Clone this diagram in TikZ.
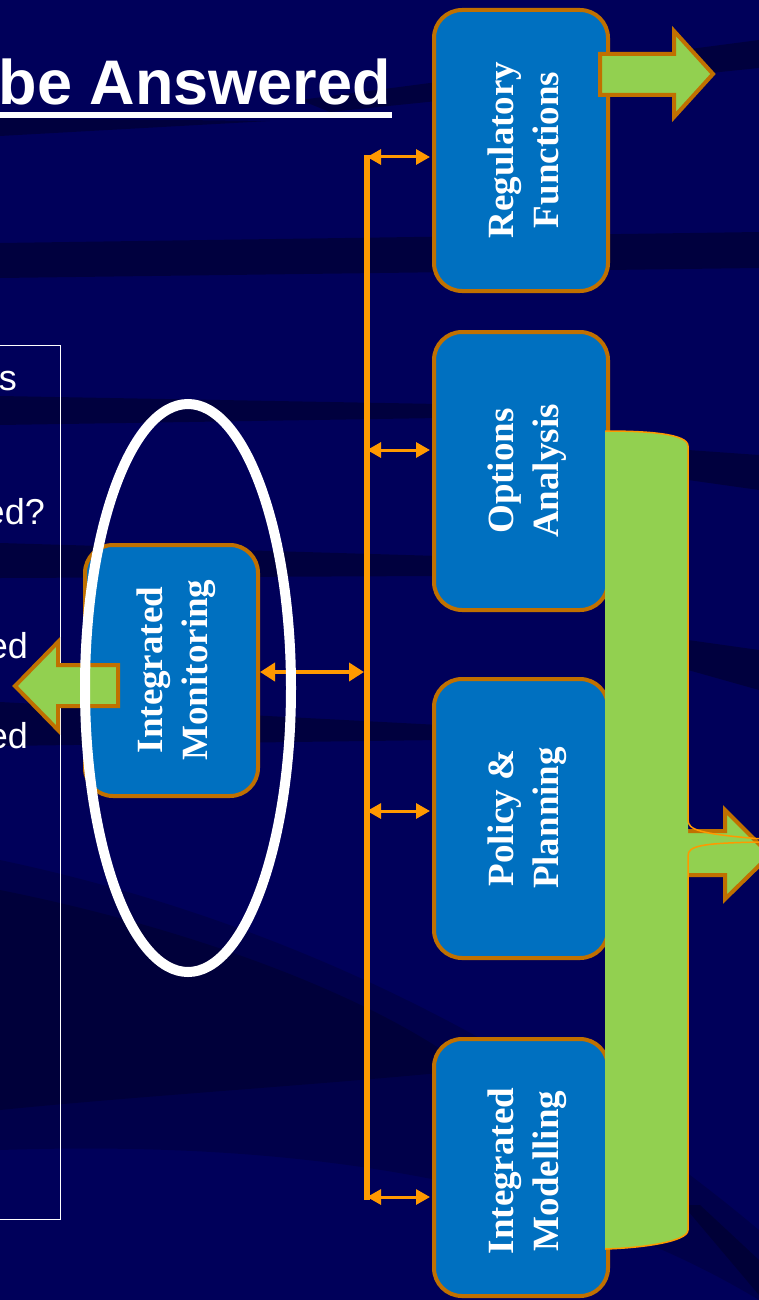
\documentclass[tikz,border=0pt]{standalone}
\usepackage{fontspec}
\setmainfont{Liberation Serif}
\setsansfont{Liberation Sans}
\usetikzlibrary{arrows.meta}

\definecolor{navy}{RGB}{0,0,90}
\definecolor{streak}{RGB}{0,0,40}
\definecolor{boxblue}{RGB}{0,112,192}
\definecolor{boxedge}{RGB}{192,112,0}
\definecolor{busorange}{RGB}{255,153,0}
\definecolor{leaf}{RGB}{146,208,80}

\begin{document}
\begin{tikzpicture}[x=1pt,y=1pt,
  funcbox/.style={draw=boxedge, fill=boxblue, line width=4pt,
    rounded corners=28pt, inner sep=0pt, minimum width=174pt},
  boxlabel/.style={text=white, font=\fontsize{37}{45}\selectfont\bfseries,
    align=center, rotate=90, inner sep=0pt, text depth=0pt},
  link/.style={draw=busorange, line width=3pt,
    {Triangle[length=14pt,width=15pt]}-{Triangle[length=14pt,width=15pt]}},
  biglink/.style={draw=busorange, line width=4.5pt,
    {Triangle[length=15pt,width=18pt]}-{Triangle[length=15pt,width=18pt]}},
  blockarrow/.style={fill=leaf, draw=boxedge, line width=4pt},
  question/.style={text=white, font=\sffamily\fontsize{36}{40}\selectfont,
    inner sep=0pt, anchor=base east},
  streakfill/.style={fill=streak, opacity=0.55}
]
\useasboundingbox (0,0) rectangle (759,-1300);
\clip (0,0) rectangle (759,-1300);

% background and its dark streaks
\fill[navy] (0,0) rectangle (759,-1300);
\fill[streakfill] (0,-118) -- (270,-121) -- (0,-136) -- cycle;
\fill[streakfill] (300,-100) -- (759,-40) -- (759,-68) -- (330,-112) -- cycle;
\fill[streakfill] (0,-243) -- (759,-232) -- (759,-268) -- (0,-278) -- cycle;
\fill[streakfill] (0,-396) -- (440,-404) -- (440,-418) -- (0,-425) -- cycle;
\fill[streakfill] (0,-543) -- (440,-556) -- (440,-576) -- (0,-578) -- cycle;
\fill[streakfill] (688,-450) -- (759,-455) -- (759,-490) -- (688,-480) -- cycle;
\fill[streakfill] (688,-640) -- (759,-650) -- (759,-690) -- (688,-670) -- cycle;
\fill[streakfill] (0,-702) -- (440,-725) -- (440,-740) -- (0,-746) -- cycle;
\fill[streak, opacity=0.3] (0,-860) .. controls (260,-915) and (520,-1030) .. (759,-1230)
  -- (759,-1300) .. controls (560,-1180) and (300,-1140) .. (0,-1150) -- cycle;
\fill[streak, opacity=0.45] (0,-890) .. controls (200,-930) and (380,-1000) .. (470,-1070)
  .. controls (320,-1085) and (150,-1095) .. (0,-1110) -- cycle;
\fill[streakfill] (683,-1205) -- (700,-1205) -- (759,-1260) -- (759,-1295) -- cycle;

% question panel on the left
\node[draw=white, line width=1.2pt, minimum width=120pt, minimum height=874pt,
  anchor=north east, inner sep=0pt] (qbox) at (61,-345) {};
\node[question] (q1) at (17,-390) {s};
\node[question] (q2) at (45,-524) {ed?};
\node[question] (q3) at (28,-658) {ed};
\node[question] (q4) at (28,-748) {ed};

% heading
\node[text=white, font=\sffamily\bfseries\fontsize{63}{70}\selectfont,
  anchor=base east, inner sep=0pt] (title) at (391,-105) {be Answered};
\draw[white, line width=6pt] ([yshift=-10pt]title.base west) -- ([yshift=-10pt,xshift=1pt]title.base east);

% function boxes
\node[funcbox, minimum height=281pt] (reg) at (521,-150.5) {};
\node[funcbox, minimum height=278pt] (opt) at (521,-471) {};
\node[funcbox, minimum height=279pt] (pol) at (521,-818.5) {};
\node[funcbox, minimum height=257pt] (mod) at (521,-1167.5) {};
\node[boxlabel] (regtext) at (523,-150) {Regulatory\\Functions};
\node[boxlabel] (opttext) at (523,-471) {Options\\Analysis};
\node[boxlabel] (poltext) at (523,-818) {Policy \&\\Planning};
\node[boxlabel] (modtext) at (523,-1171) {Integrated\\Modelling};

% orange bus and its links
\coordinate (bustop) at (367,-155);
\coordinate (busbot) at (367,-1200);
\coordinate (b1) at (367,-157);
\coordinate (b2) at (367,-450);
\coordinate (b3) at (367,-811);
\coordinate (b4) at (367,-1197);
\coordinate (bm) at (364,-672);
\draw[busorange, line width=6pt] (bustop) -- (busbot);
\draw[link, shorten >=2pt] (b1) -- (b1 -| reg.west);
\draw[link, shorten >=2pt] (b2) -- (b2 -| opt.west);
\draw[link, shorten >=2pt] (b3) -- (b3 -| pol.west);
\draw[link, shorten >=2pt] (b4) -- (b4 -| mod.west);

% output arrows
\draw[blockarrow] (600,-54) -- (674,-54) -- (674,-31) -- (713,-74) -- (674,-117)
  -- (674,-95) -- (600,-95) -- cycle;
\draw[blockarrow] (640,-831) -- (725,-831) -- (725,-810) -- (770,-855) -- (725,-899)
  -- (725,-875) -- (640,-875) -- cycle;

% green collector band
\fill[leaf] (605,-431) .. controls (650,-431) and (688,-434) .. (688,-446)
  -- (688,-1230) .. controls (688,-1242) and (640,-1248) .. (605,-1249) -- cycle;
\draw[busorange, line width=1.5pt] (605,-431) .. controls (650,-431) and (688,-434) .. (688,-446)
  -- (688,-820) .. controls (688,-830) and (700,-834) .. (762,-839);
\draw[busorange, line width=1.5pt] (762,-842) .. controls (700,-843) and (688,-846) .. (688,-856)
  -- (688,-1230) .. controls (688,-1242) and (640,-1248) .. (605,-1249);

% monitoring box
\node[funcbox, minimum width=173pt, minimum height=251pt] (mon) at (171.5,-670.5) {};
\node[boxlabel] (montext) at (172,-670) {Integrated\\Monitoring};
\draw[biglink] (mon.east |- bm) -- (bm);

\draw[blockarrow] (118,-665) -- (58,-665) -- (58,-642) -- (15,-686) -- (58,-730)
  -- (58,-706) -- (118,-706) -- cycle;

% highlight ring
\draw[white, line width=10pt] (188,-688) ellipse [x radius=103pt, y radius=284pt];
\end{tikzpicture}
\end{document}
